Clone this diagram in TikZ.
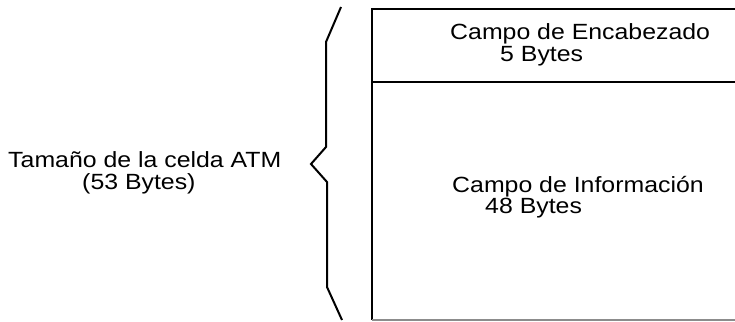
\documentclass[tikz,border=0pt]{standalone}
\usepackage{fontspec}
\setmainfont{Liberation Sans}
\usepackage{tikz}
\usetikzlibrary{positioning, calc}

\begin{document}
\begin{tikzpicture}[x=1pt, y=-1pt,
      lbl/.style={anchor=base west, inner sep=0pt, font=\fontsize{22}{24}\selectfont, xscale=1.13, transform shape},
      edge/.style={line width=2pt, black},
      brace/.style={line width=2pt, black, line join=miter}]
    \useasboundingbox (0,0) rectangle (735,321);
    % --- the cell: header field over information field ---
    \coordinate (tl) at (372,9);
    \coordinate (tr) at (740,9);
    \coordinate (ml) at (372,82);
    \coordinate (mr) at (740,82);
    \coordinate (bl) at (372,320);
    \coordinate (br) at (740,320);
    \draw[edge] (tr) -- (tl) -- (bl);
    \draw[edge] (ml) -- (mr);
    \draw[line width=1.4pt, black!45] (bl) -- (br);
    \node[lbl] (head)  at (450,40)  {Campo de Encabezado};
    \node[lbl] (headb) at (500,62)  {5 Bytes};
    \node[lbl] (info)  at (452,192) {Campo de Información};
    \node[lbl] (infob) at (485,213) {48 Bytes};
    % --- brace and size of the cell ---
    \draw[brace] (341,7) -- (326,42) -- (326,147) -- (311,164) -- (327,182) -- (327,287) -- (342,320);
    \node[lbl] (size)  at (8,167)  {Tamaño de la celda ATM};
    \node[lbl] (sizeb) at (82,189) {(53 Bytes)};
  \end{tikzpicture}
\end{document}
